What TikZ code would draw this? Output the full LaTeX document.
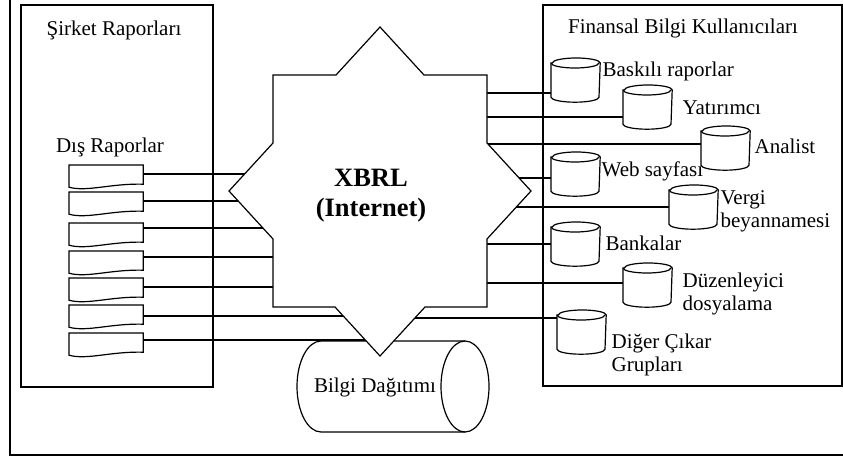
\documentclass[tikz,border=0pt]{standalone}
\usepackage{fontspec}
\setmainfont{Liberation Serif}
\newcommand{\docshape}[3]{%
  \node[docbox] (#1) at (#2,#3) {};
  \filldraw[fill=white] (#1.north west) -- (#1.north east) -- ([yshift=2pt]#1.south east)
    .. controls ([xshift=-32pt,yshift=3pt]#1.south east) and ([xshift=18pt,yshift=-6pt]#1.south west) .. ([yshift=-1pt]#1.south west) -- cycle;
}
\newcommand{\dbcyl}[3]{%
  \node[cylbox] (#1) at (#2,#3) {};
  \filldraw[fill=white] ([yshift=-5pt]#1.north west) -- ([yshift=5pt]#1.south west)
    arc[start angle=180,end angle=360,x radius=24pt,y radius=5pt]
    -- ([yshift=-5pt]#1.north east)
    arc[start angle=0,end angle=180,x radius=24pt,y radius=5pt] -- cycle;
  \draw ([yshift=-5pt]#1.north west) arc[start angle=180,end angle=360,x radius=24pt,y radius=5pt];
}
\begin{document}
\begin{tikzpicture}[x=1pt,y=-1pt,line width=1.2pt,line join=miter,
  every node/.style={font=\fontsize{21}{23}\selectfont,inner sep=0pt},
  lbl/.style={anchor=base west,align=left},
  docbox/.style={minimum width=73pt,minimum height=20pt,anchor=north west,draw=none},
  cylbox/.style={minimum width=48pt,minimum height=43pt,anchor=north west,draw=none},
  bigcyl/.style={minimum width=192pt,minimum height=91pt,draw=none},
  conn/.style={line width=1.2pt}]
\useasboundingbox (0,0) rectangle (843,457);
% frames
\draw (10,0) -- (10,455) -- (843,455);
\draw (21,5) rectangle (213,387);
\draw (543,5) rectangle (842,386);
\node[anchor=base] (t1) at (114,36) {Şirket Raporları};
\node[anchor=base] (t2) at (110,153) {Dış Raporlar};
\node[anchor=base] (t3) at (683,34) {Finansal Bilgi Kullanıcıları};
\coordinate (xc) at (380,191);
% documents
\docshape{d1}{69}{165}
\docshape{d2}{69}{192}
\docshape{d3}{69}{223}
\docshape{d4}{69}{251}
\docshape{d5}{69}{278}
\docshape{d6}{69}{305}
\docshape{d7}{69}{333}
% user cylinders
\dbcyl{c1}{551}{58}
\dbcyl{c2}{623}{85}
\dbcyl{c3}{701}{126}
\dbcyl{c4}{551}{152}
\dbcyl{c5}{669}{185}
\dbcyl{c6}{551}{222}
\dbcyl{c7}{623}{263}
\dbcyl{c8}{557}{310}
% left connectors
\draw[conn] (d1.east |- 0,174) -- (xc |- 0,174);
\draw[conn] (d2.east |- 0,201) -- (xc |- 0,201);
\draw[conn] (d3.east |- 0,228) -- (xc |- 0,228);
\draw[conn] (d4.east |- 0,257) -- (xc |- 0,257);
\draw[conn] (d5.east |- 0,287) -- (xc |- 0,287);
\draw[conn] (d6.east |- 0,316) -- (xc |- 0,316);
\draw[conn] (d7.east |- 0,340) -- (xc |- 0,340);
% right connectors
\draw[conn] (xc |- 0,93) -- (c1.west |- 0,93);
\draw[conn] (xc |- 0,117) -- (c2.west |- 0,117);
\draw[conn] (xc |- 0,144) -- (c3.west |- 0,144);
\draw[conn] (xc |- 0,178) -- (c4.west |- 0,178);
\draw[conn] (xc |- 0,207) -- (c5.west |- 0,207);
\draw[conn] (xc |- 0,244) -- (c6.west |- 0,244);
\draw[conn] (xc |- 0,283) -- (c7.west |- 0,283);
\draw[conn] (xc |- 0,318) -- (c8.west |- 0,318);
% distribution cylinder
\node[bigcyl] (bd) at (393,386.5) {};
\filldraw[fill=white] (321,341) -- (465,341)
  arc[start angle=90,end angle=-90,x radius=24pt,y radius=45.5pt]
  -- (321,432)
  arc[start angle=270,end angle=90,x radius=24pt,y radius=45.5pt] -- cycle;
\draw (465,341) arc[start angle=90,end angle=270,x radius=24pt,y radius=45.5pt];
\node[anchor=base] (bdt) at (375,392) {Bilgi Dağıtımı};
% XBRL star
\filldraw[fill=white] (380,27) -- (424,75) -- (487,75) -- (487,143) -- (531,191)
  -- (487,239) -- (487,307) -- (425,307) -- (380,356) -- (335,307) -- (273,307)
  -- (273,239) -- (229,191) -- (273,143) -- (273,75) -- (336,75) -- cycle;
\node[font=\bfseries\fontsize{26.5}{30}\selectfont,align=center] (xbrl) at (371,196) {XBRL\\(Internet)};
% labels
\node[lbl] (l1) at (602,77) {Baskılı raporlar};
\node[lbl] (l2) at (682,115) {Yatırımcı};
\node[lbl] (l3) at (754,154) {Analist};
\node[lbl] (l4) at (601,177) {Web sayfası};
\node[lbl] (l5) at (720,227) {Vergi\\beyannamesi};
\node[lbl] (l6) at (605,251) {Bankalar};
\node[lbl] (l7) at (682,310) {Düzenleyici\\dosyalama};
\node[lbl] (l8) at (611,371) {Diğer Çıkar\\Grupları};
\end{tikzpicture}
\end{document}
